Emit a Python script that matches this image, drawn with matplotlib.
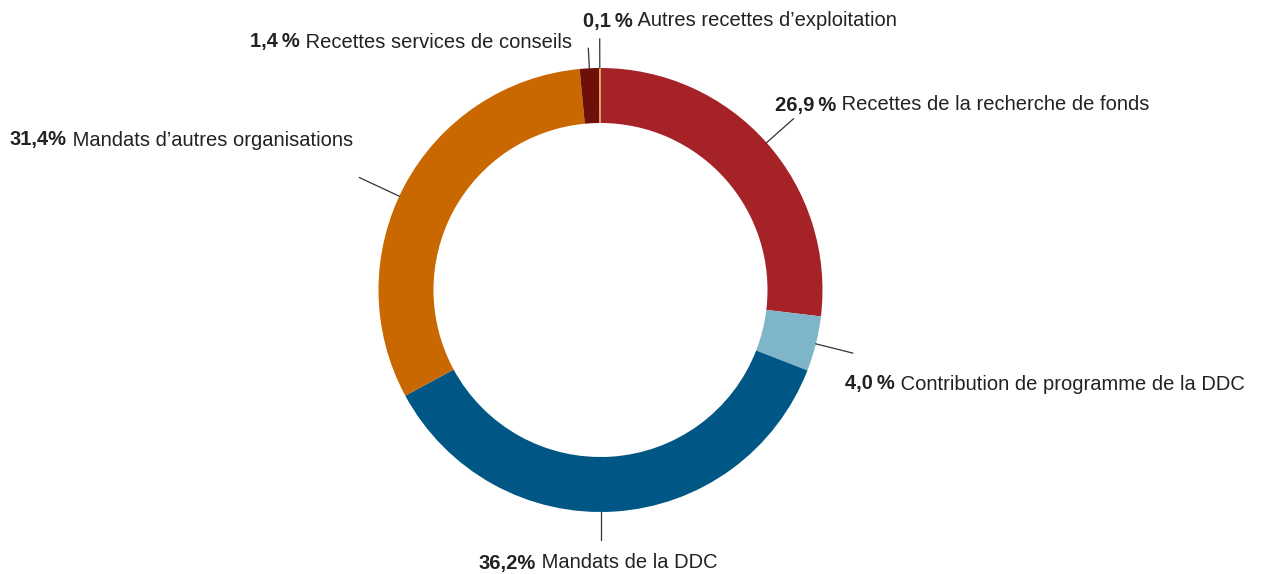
import numpy as np
import matplotlib
matplotlib.use('Agg')
import matplotlib.pyplot as plt

# parts des recettes (%), dans le sens horaire depuis le haut
shares = [26.9, 4.0, 36.2, 31.4, 1.4, 0.1]
pct_labels = ['26,9\u2009%', '4,0\u2009%', '36,2%', '31,4%', '1,4\u2009%', '0,1\u2009%']
names = ['Recettes de la recherche de fonds',
         'Contribution de programme de la DDC',
         'Mandats de la DDC',
         'Mandats d\u2019autres organisations',
         'Recettes services de conseils',
         'Autres recettes d\u2019exploitation']
colors = ['#A52327', '#7EB5C8', '#005785', '#C96800', '#6F0F0A', '#E9A93A']

W, H = 1272, 574
plt.rcParams['font.family'] = ['Liberation Sans', 'DejaVu Sans']

fig = plt.figure(figsize=(W / 100, H / 100), dpi=100)
ax = fig.add_axes([0, 0, 1, 1])

cx, cy, R, ring = 600.5, H - 290, 222, 55
wedges, _ = ax.pie(shares, colors=colors, startangle=90, counterclock=False,
                   center=(cx, cy), radius=R,
                   wedgeprops=dict(width=ring, linewidth=0))
ax.set_xlim(0, W)
ax.set_ylim(0, H)
ax.set_aspect('equal')
ax.axis('off')

# traits de rappel: angle (None = milieu du secteur), longueur, ancrage du texte
lead_ang = [None, None, -90, 155, None, None]
lead_len = [36, 38, 28, 44, 20, 29]
txt_pos = [(775, 105, 'left'), (845, 384, 'left'), (598, 563, 'center'),
           (10, 140, 'left'), (572, 42, 'right'), (583, 21, 'left')]

fig.canvas.draw()
rend = fig.canvas.get_renderer()
fs = 14.5
for i, w in enumerate(wedges):
    a = lead_ang[i] if lead_ang[i] is not None else (w.theta1 + w.theta2) / 2
    ang = np.deg2rad(a)
    x0, y0 = cx + R * np.cos(ang), cy + R * np.sin(ang)
    x1 = cx + (R + lead_len[i]) * np.cos(ang)
    y1 = cy + (R + lead_len[i]) * np.sin(ang)
    ax.plot([x0, x1], [y0, y1], color='#333333', lw=0.9)

    tx, ty, ha = txt_pos[i]
    ty = H - ty
    b = ax.text(0, ty, pct_labels[i], fontsize=fs, fontweight='bold',
                color='#222222', va='center')
    r = ax.text(0, ty, ' ' + names[i], fontsize=fs, color='#222222', va='center')
    wb = b.get_window_extent(rend).width
    wr = r.get_window_extent(rend).width
    if ha == 'left':
        start = tx
    elif ha == 'right':
        start = tx - wb - wr
    else:
        start = tx - (wb + wr) / 2
    b.set_x(start)
    r.set_x(start + wb)

fig.savefig('out.png', dpi=100)
